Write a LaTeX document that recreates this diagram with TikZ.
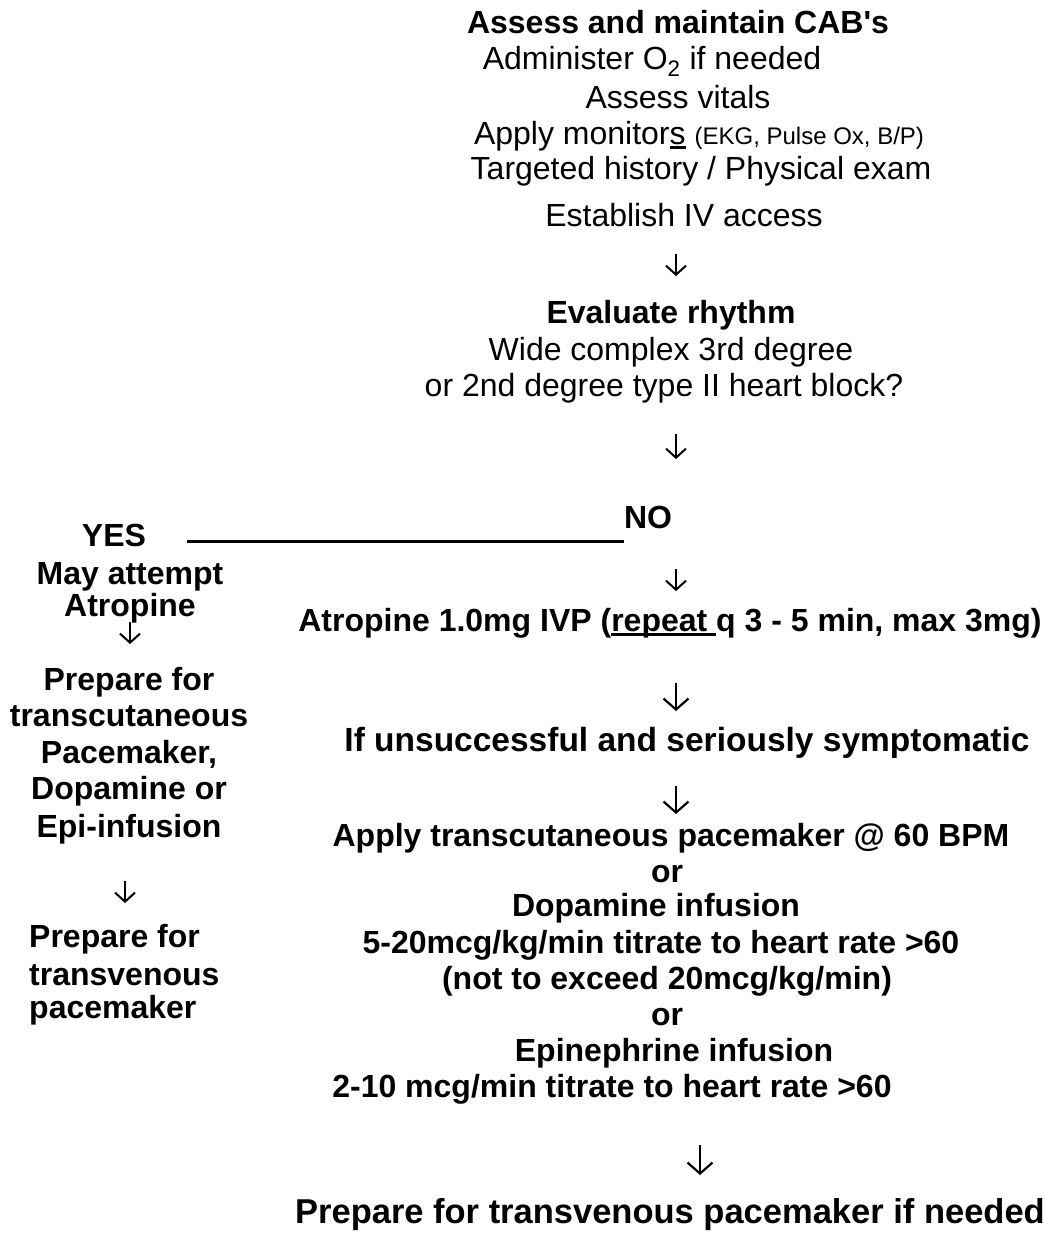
\documentclass[tikz,border=0pt]{standalone}
\usepackage{fontspec}
\setmainfont{Liberation Sans}
\usetikzlibrary{positioning}
\usetikzlibrary{arrows.meta}
\newcommand{\thickul}[1]{\setbox0\hbox{#1}\rlap{\rule[-5pt]{\wd0}{3.5pt}}\box0}

\begin{document}
\begin{tikzpicture}[x=1pt,y=-1pt,
    txt/.style={font=\fontsize{32}{36}\selectfont, inner sep=0pt, anchor=base},
    btxt/.style={txt, font=\fontsize{32}{36}\selectfont\bfseries},
    down/.style={line width=2pt, -{Straight Barb[length=9pt, width=20pt, line width=2pt]}},
    bigdown/.style={line width=2.2pt, -{Straight Barb[length=11pt, width=25pt, line width=2.2pt]}}]
  \fill[white] (0,0) rectangle (1044,1251);
  \useasboundingbox (0,0) rectangle (1044,1251);

  % first checks
  \node[btxt] (cab)      at (678,33)  {Assess and maintain CAB\textquotesingle s};
  \node[txt]  (oxygen)   at (652,69)  {Administer O\textsubscript{2} if needed};
  \node[txt]  (vitals)   at (678,108) {Assess vitals};
  \node[txt]  (monitors) at (699,144) {Apply monitor\thickul{s}\ {\fontsize{24}{26}\selectfont(EKG, Pulse Ox, B/P)}};
  \node[txt]  (history)  at (701,179) {Targeted history / Physical exam};
  \node[txt]  (ivaccess) at (684,226) {Establish IV access};
  \coordinate (arrowA) at (676,254);
  \draw[down] (arrowA) -- ++(0,22);

  % rhythm
  \node[btxt] (rhythm)   at (671,323) {Evaluate rhythm};
  \node[txt]  (wide)     at (671,360) {Wide complex 3rd degree};
  \node[txt]  (block)    at (664,396) {or 2nd degree type II heart block?};
  \coordinate (arrowB) at (676,434);
  \draw[down] (arrowB) -- ++(0,25);

  % split
  \node[btxt] (yes) at (114,546) {YES};
  \node[btxt] (no)  at (648,528) {NO};
  \coordinate (split) at (187,541);
  \draw[line width=3pt] (split) -- (split -| no.west);

  % yes branch
  \node[btxt] (attempt)  at (130,584) {May attempt};
  \node[btxt] (atrleft)  at (130,616) {Atropine};
  \coordinate (arrowC) at (130,622);
  \draw[down] (arrowC) -- ++(0,22);
  \foreach \i/\yy/\line in {1/690/Prepare for, 2/726/transcutaneous, 3/763/{Pacemaker,},
                            4/799/Dopamine or, 5/837/Epi-infusion}
    \node[btxt] (tcp\i) at (129,\yy) {\line};
  \coordinate (arrowD) at (125,881);
  \draw[down] (arrowD) -- ++(0,22);
  \foreach \i/\yy/\line in {1/947/Prepare for, 2/985/transvenous, 3/1018/pacemaker}
    \node[btxt, anchor=base west] (tvp\i) at (29,\yy) {\line};

  % no branch
  \coordinate (arrowE) at (676,569);
  \draw[down] (arrowE) -- ++(0,22);
  \node[btxt] (atropine) at (670,631)  {Atropine 1.0mg IVP (\thickul{repeat }q 3 - 5 min, max 3mg)};
  \coordinate (arrowF) at (676,683);
  \draw[bigdown] (arrowF) -- ++(0,28);
  \node[btxt, font=\fontsize{33.5}{36}\selectfont\bfseries] (unsucc) at (687,751) {If unsuccessful and seriously symptomatic};
  \coordinate (arrowG) at (676,786);
  \draw[bigdown] (arrowG) -- ++(0,28);
  \node[btxt] (pacer)    at (671,846)  {Apply transcutaneous pacemaker @ 60 BPM};
  \node[btxt] (orA)      at (667,882)  {or};
  \node[btxt] (dopa)     at (656,916)  {Dopamine infusion};
  \node[btxt] (dopadose) at (661,953)  {5-20mcg/kg/min titrate to heart rate >60};
  \node[btxt] (dopamax)  at (667,989)  {(not to exceed 20mcg/kg/min)};
  \node[btxt] (orB)      at (667,1025) {or};
  \node[btxt] (epi)      at (674,1061) {Epinephrine infusion};
  \node[btxt] (epidose)  at (612,1097) {2-10 mcg/min titrate to heart rate >60};
  \coordinate (arrowH) at (700,1145);
  \draw[bigdown] (arrowH) -- ++(0,30);
  \node[btxt, font=\fontsize{34.5}{36}\selectfont\bfseries] (tvpace) at (670,1223) {Prepare for transvenous pacemaker if needed};
\end{tikzpicture}
\end{document}
